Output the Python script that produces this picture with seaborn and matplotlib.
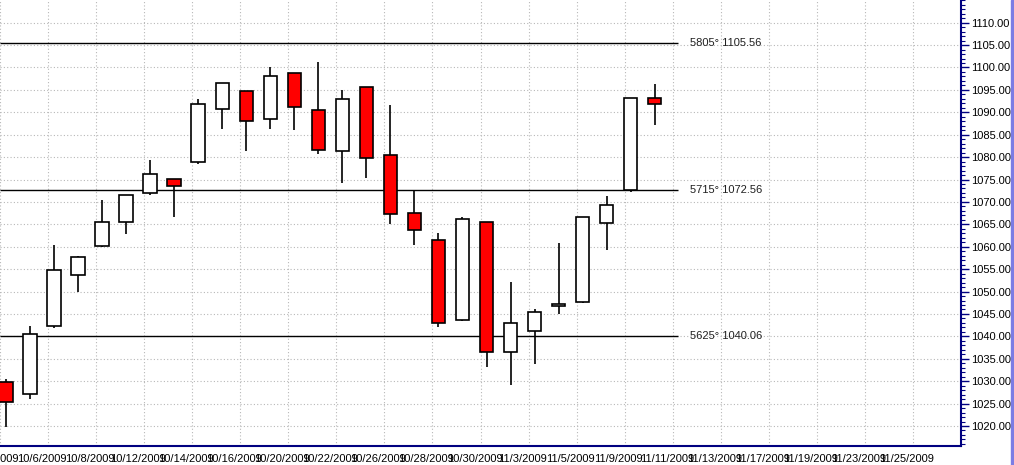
import matplotlib
matplotlib.use("Agg")
import matplotlib.pyplot as plt
import matplotlib.transforms as mtransforms
from matplotlib.patches import Rectangle
from matplotlib.ticker import MultipleLocator, FixedLocator, FormatStrFormatter
import numpy as np
import seaborn as sns

# daily candles, 10/2/2009 .. 11/10/2009
dates = ["10/2/2009", "10/5/2009", "10/6/2009", "10/7/2009", "10/8/2009", "10/9/2009",
         "10/12/2009", "10/13/2009", "10/14/2009", "10/15/2009", "10/16/2009",
         "10/19/2009", "10/20/2009", "10/21/2009", "10/22/2009", "10/23/2009",
         "10/26/2009", "10/27/2009", "10/28/2009", "10/29/2009", "10/30/2009",
         "11/2/2009", "11/3/2009", "11/4/2009", "11/5/2009", "11/6/2009",
         "11/9/2009", "11/10/2009"]
opens = [1029.75, 1027.07, 1042.24, 1053.77, 1060.24, 1065.45, 1071.92, 1075.04,
         1078.83, 1090.66, 1094.68, 1088.43, 1098.69, 1090.44, 1081.29, 1095.57,
         1080.40, 1067.45, 1061.43, 1043.73, 1065.52, 1036.44, 1041.12, 1046.70,
         1047.59, 1065.22, 1072.59, 1093.12]
highs = [1030.50, 1042.31, 1060.31, 1057.94, 1070.43, 1071.47, 1079.28, 1075.04,
         1092.97, 1096.46, 1094.68, 1100.11, 1098.69, 1101.22, 1094.98, 1095.57,
         1091.63, 1072.51, 1063.07, 1066.56, 1065.52, 1052.13, 1046.11, 1060.76,
         1066.56, 1071.32, 1093.12, 1096.31]
lows = [1019.85, 1025.95, 1041.94, 1049.90, 1060.02, 1062.92, 1071.62, 1066.71,
        1078.54, 1086.35, 1081.44, 1086.35, 1086.05, 1080.77, 1074.30, 1075.34,
        1065.15, 1060.39, 1042.17, 1043.50, 1033.24, 1029.15, 1033.91, 1044.99,
        1047.37, 1059.35, 1072.30, 1087.17]
closes = [1025.42, 1040.45, 1054.74, 1057.64, 1065.45, 1071.47, 1076.16, 1073.48,
          1091.93, 1096.46, 1087.98, 1098.02, 1091.26, 1081.66, 1092.89, 1079.73,
          1067.23, 1063.66, 1042.91, 1066.19, 1036.44, 1042.98, 1045.36, 1047.15,
          1066.56, 1069.24, 1093.12, 1091.93]

# labels every second trading day, running past the data
tick_dates = ["10/2/2009", "10/6/2009", "10/8/2009", "10/12/2009", "10/14/2009",
              "10/16/2009", "10/20/2009", "10/22/2009", "10/26/2009", "10/28/2009",
              "10/30/2009", "11/3/2009", "11/5/2009", "11/9/2009", "11/11/2009",
              "11/13/2009", "11/17/2009", "11/19/2009", "11/23/2009", "11/25/2009"]
price_ticks = [1020, 1025, 1030, 1035, 1040, 1045, 1050, 1055, 1060, 1065,
               1070, 1075, 1080, 1085, 1090, 1095, 1100, 1105, 1110]

levels = [1105.56, 1072.56, 1040.06]
level_names = ["5805°", "5715°", "5625°"]

sns.set_style("white")
plt.rcParams["font.family"] = ["Liberation Sans", "DejaVu Sans"]

navy = "#000080"
fig = plt.figure(figsize=(10.14, 4.65), dpi=100)
ax = fig.add_axes([0, 19.3 / 465, 961 / 1014, 445.7 / 465])

x = np.arange(len(dates))
o = np.array(opens)
c = np.array(closes)
up = c >= o
colors = np.where(up, "white", "#ff0000")

ax.vlines(x, lows, highs, color="black", lw=1.2, zorder=2)
ax.bar(x, np.maximum(np.abs(c - o), 0.25), bottom=np.minimum(o, c), width=0.56,
       color=colors, edgecolor="black", linewidth=1.2, zorder=3)

# level lines with their labels
ax.hlines(levels, -0.25, 27.95, color="black", lw=1.0, zorder=2)
for lv, nm in zip(levels, level_names):
    ax.text(28.45, lv, f"{nm} {lv:.2f}", fontsize=8, va="center", ha="left",
            color="#202020", zorder=4)

ax.set_xlim(-0.25, 39.75)
ax.set_ylim(1015.6, 1115.06)

grid_pos = np.arange(len(tick_dates)) * 2 - 0.25
ax.xaxis.set_major_locator(FixedLocator(grid_pos))
ax.set_xticklabels(tick_dates)
ax.xaxis.set_minor_locator(FixedLocator(grid_pos + 1))
ax.yaxis.set_major_locator(FixedLocator(price_ticks))
ax.yaxis.set_minor_locator(MultipleLocator(1))
ax.yaxis.set_major_formatter(FormatStrFormatter("%.2f"))
ax.yaxis.tick_right()

ax.grid(True, which="major", color="#b8b8b8", linestyle=(0, (1, 2)), lw=0.8, zorder=0)
ax.set_axisbelow(True)

ax.tick_params(axis="x", which="major", length=3, width=1, color=navy,
               labelsize=8, pad=3, labelcolor="black")
ax.tick_params(axis="x", which="minor", length=2, width=1, color=navy)
ax.tick_params(axis="y", which="major", length=6, width=1, color=navy,
               labelsize=8, pad=1, labelcolor="black")
ax.tick_params(axis="y", which="minor", length=3, width=0.8, color=navy)

for side in ["top", "left"]:
    ax.spines[side].set_visible(False)
for side in ["bottom", "right"]:
    ax.spines[side].set_color(navy)
    ax.spines[side].set_linewidth(1.5)

shift = mtransforms.ScaledTranslation(-6 / 100, 0, fig.dpi_scale_trans)
for lab in ax.get_xticklabels():
    lab.set_transform(lab.get_transform() + shift)

ax.set_xlabel("")
ax.set_ylabel("")

# window edge strip at the far right
fig.patches.append(Rectangle((1011 / 1014, 0), 3 / 1014, 1, transform=fig.transFigure,
                             color="#7c7ce4", zorder=0))

fig.savefig("out.png", dpi=100)
